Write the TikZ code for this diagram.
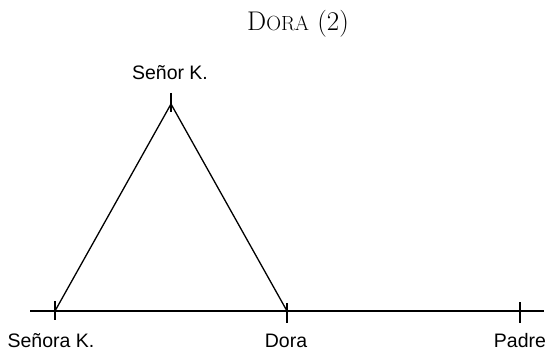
\documentclass[tikz,border=0pt]{standalone}
\usepackage{fontspec}
\newfontfamily\labelfont{Liberation Sans}
\newcommand{\fakesc}[1]{{\fontsize{20.5}{22}\selectfont #1}}
\begin{document}
\begin{tikzpicture}[x=1pt,y=-1pt,
  lbl/.style={font=\labelfont\fontsize{19.5}{22}\selectfont, anchor=base, inner sep=0pt},
  ttl/.style={font=\fontsize{27}{30}\selectfont, anchor=base, inner sep=0pt},
  ln/.style={line width=1.3pt, black},
  tk/.style={line width=1.1pt, black}]
\useasboundingbox (0,0) rectangle (547,353);
% title
\node[ttl] (title) at (298,31) {D\fakesc{ORA} (2)};
% points
\coordinate (L) at (30,311);
\coordinate (R) at (544,311);
\coordinate (sra) at (55,311);
\coordinate (dora) at (287,311);
\coordinate (padre) at (520,311);
\coordinate (sr) at (171,104);
% ticks
\coordinate (sraT) at (55,301); \coordinate (sraB) at (55,320);
\coordinate (doraT) at (287,303); \coordinate (doraB) at (287,323);
\coordinate (padreT) at (520,302); \coordinate (padreB) at (520,323);
\coordinate (srT) at (171,93); \coordinate (srB) at (171,112);
% lines
\draw[ln] (L) -- (R);
\draw[ln] (sra) -- (sr) -- (dora);
\draw[tk] (sraT) -- (sraB);
\draw[tk] (doraT) -- (doraB);
\draw[tk] (padreT) -- (padreB);
\draw[tk] (srT) -- (srB);
% labels
\node[lbl] (lsr) at (170,80) {Señor K.};
\node[lbl] (lsra) at (51,347) {Señora K.};
\node[lbl] (ldora) at (286,347) {Dora};
\node[lbl] (lpadre) at (520,347) {Padre};
\end{tikzpicture}
\end{document}
